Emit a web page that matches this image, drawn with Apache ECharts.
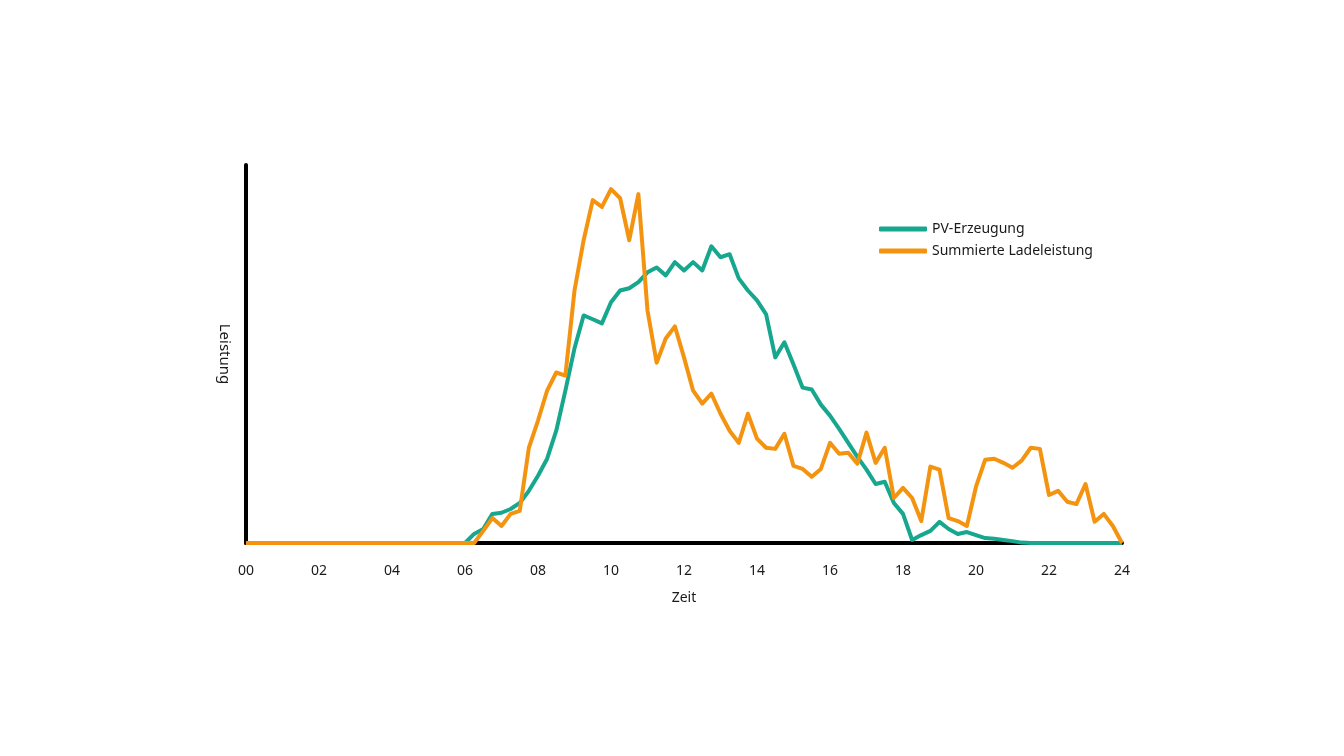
<!DOCTYPE html>
<html>
<head>
<meta charset="utf-8">
<title>PV-Erzeugung und Ladeleistung</title>
<script src="https://cdn.jsdelivr.net/npm/echarts@6/dist/echarts.min.js"></script>
<style>
  html, body { margin: 0; padding: 0; background: #fff; }
  #chart { width: 1344px; height: 756px; }
</style>
</head>
<body>
<div id="chart"></div>
<script>
// 15-minute steps from 00:00 to 24:00 (97 points), relative power 0..100
const stepHours = 0.25;
const hourLabels = ["00", "02", "04", "06", "08", "10", "12", "14", "16", "18", "20", "22", "24"];

const pvValues = [
  0, 0, 0, 0, 0, 0, 0, 0, 0, 0, 0, 0,
  0, 0, 0, 0, 0, 0, 0, 0, 0, 0, 0, 0,
  0, 2.4, 3.7, 7.7, 8.0, 9.0, 10.6, 13.8, 17.8, 22.3, 29.7, 40.3,
  51.5, 60.2, 59.2, 58.1, 63.7, 66.8, 67.4, 69.0, 71.6, 72.9, 70.8, 74.3,
  72.1, 74.3, 72.1, 78.5, 75.6, 76.4, 70.0, 66.8, 64.2, 60.5, 49.1, 53.1,
  47.2, 41.1, 40.6, 36.6, 33.7, 30.2, 26.5, 22.8, 19.4, 15.6, 16.2, 10.6,
  7.7, 0.8, 2.1, 3.2, 5.6, 3.7, 2.4, 2.9, 2.1, 1.3, 1.1, 0.8,
  0.5, 0.1, 0, 0, 0, 0, 0, 0, 0, 0, 0, 0,
  0
];

const chargeValues = [
  0, 0, 0, 0, 0, 0, 0, 0, 0, 0, 0, 0,
  0, 0, 0, 0, 0, 0, 0, 0, 0, 0, 0, 0,
  0, 0, 3.2, 6.6, 4.5, 7.7, 8.5, 25.2, 32.4, 40.3, 45.1, 44.3,
  66.8, 80.1, 90.7, 88.9, 93.6, 91.2, 80.1, 92.3, 61.5, 47.7, 54.1, 57.3,
  49.1, 40.3, 36.9, 39.5, 34.2, 29.7, 26.5, 34.2, 27.6, 25.2, 24.9, 28.9,
  20.4, 19.6, 17.5, 19.6, 26.5, 23.6, 23.9, 21.0, 29.2, 21.2, 25.2, 11.9,
  14.6, 11.9, 5.8, 20.2, 19.4, 6.6, 5.8, 4.5, 14.9, 22.0, 22.3, 21.2,
  19.9, 21.8, 25.2, 24.9, 12.7, 13.8, 10.9, 10.3, 15.6, 5.6, 7.7, 4.5,
  0
];

const toPairs = values => values.map((v, i) => [i * stepHours, v]);

const fontFamily = "'Noto Sans', 'Open Sans', sans-serif";
const chart = echarts.init(document.getElementById("chart"));

chart.setOption({
  backgroundColor: "#ffffff",
  animation: false,
  grid: { left: 246, right: 222, top: 165, bottom: 213 },
  legend: {
    orient: "vertical",
    left: 874,
    top: 217,
    itemWidth: 48,
    itemHeight: 5,
    itemGap: 8,
    icon: "roundRect",
    textStyle: { fontFamily: fontFamily, fontSize: 14, color: "#1a1a1a", padding: [0, 0, 0, 0] },
    data: ["PV-Erzeugung", "Summierte Ladeleistung"]
  },
  xAxis: {
    type: "value",
    min: 0,
    max: 24,
    interval: 2,
    name: "Zeit",
    nameLocation: "middle",
    nameGap: 48,
    nameTextStyle: { fontFamily: fontFamily, fontSize: 14, color: "#1a1a1a" },
    axisLine: { show: true, lineStyle: { color: "#000", width: 4, cap: "round" } },
    axisTick: { show: false },
    splitLine: { show: false },
    axisLabel: {
      margin: 21,
      fontFamily: fontFamily,
      fontSize: 14,
      color: "#1a1a1a",
      formatter: v => hourLabels[Math.round(v / 2)]
    }
  },
  yAxis: {
    type: "value",
    min: 0,
    max: 100,
    name: "Leistung",
    nameLocation: "middle",
    nameGap: 14,
    nameRotate: -90,
    nameTextStyle: { fontFamily: fontFamily, fontSize: 15, color: "#1a1a1a" },
    axisLine: { show: true, lineStyle: { color: "#000", width: 4, cap: "round" } },
    axisTick: { show: false },
    axisLabel: { show: false },
    splitLine: { show: false }
  },
  series: [
    {
      name: "PV-Erzeugung",
      type: "line",
      data: toPairs(pvValues),
      showSymbol: false,
      symbol: "none",
      color: "#17a68e",
      lineStyle: { width: 4, color: "#17a68e", join: "round" }
    },
    {
      name: "Summierte Ladeleistung",
      type: "line",
      data: toPairs(chargeValues),
      showSymbol: false,
      symbol: "none",
      color: "#f3930f",
      lineStyle: { width: 4, color: "#f3930f", join: "round" }
    }
  ]
});
</script>
</body>
</html>
